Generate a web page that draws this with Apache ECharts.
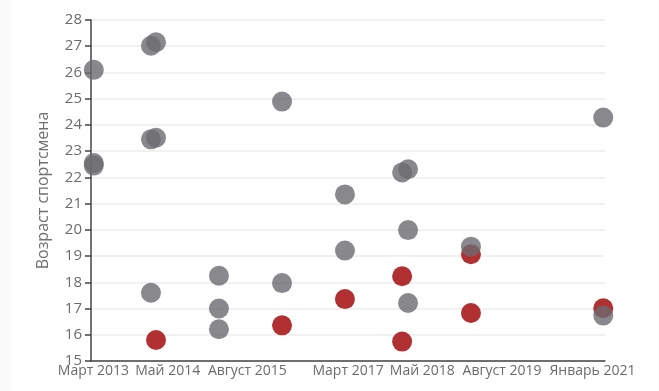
<!DOCTYPE html>
<html>
<head>
<meta charset="utf-8">
<script src="https://cdn.jsdelivr.net/npm/echarts@6/dist/echarts.min.js"></script>
<style>
  html, body { margin: 0; padding: 0; background: #fafafa; }
  #chart { position: absolute; left: 10px; top: 0; width: 648px; height: 391px; background: #ffffff; }
</style>
</head>
<body>
<div id="chart"></div>
<script>
// Tick labels on the date axis (label date -> text)
const tickDates = ['2013-03-01', '2014-05-01', '2015-08-01', '2017-03-01', '2018-05-01', '2019-08-01', '2021-01-01'];
const tickLabels = ['Март 2013', 'Май 2014', 'Август 2015', 'Март 2017', 'Май 2018', 'Август 2019', 'Январь 2021'];

// Gray points: [date, age]
const grayDates = [
  '2013-03-03', '2013-03-03', '2013-03-03',
  '2014-01-25', '2014-02-23', '2014-01-25', '2014-02-23', '2014-01-25',
  '2015-02-19', '2015-02-19', '2015-02-19',
  '2016-02-16', '2016-02-16',
  '2017-02-11', '2017-02-11',
  '2018-01-05', '2018-02-08', '2018-02-08', '2018-02-08',
  '2019-02-04',
  '2021-03-04', '2021-03-04'
];
const grayAges = [
  26.1, 22.45, 22.55,
  27.02, 27.15, 23.45, 23.51, 17.6,
  18.25, 17.0, 16.21,
  24.89, 17.97,
  21.35, 19.21,
  22.19, 22.31, 19.99, 17.21,
  19.36,
  24.28, 16.73
];

// Red points: [date, age]
const redDates = ['2014-02-23', '2016-02-16', '2017-02-11', '2018-01-05', '2018-01-05', '2019-02-04', '2019-02-04', '2021-03-04'];
const redAges  = [15.8, 16.36, 17.36, 18.23, 15.74, 19.07, 16.83, 17.01];

const yMin = 15, yMax = 28;
const axisStart = '2013-02-15', axisEnd = '2021-03-14';
const yName = 'Возраст спортсмена';

const FONT = '"Open Sans", "Noto Sans", sans-serif';
const DAY = 86400000;
const toDay = s => Math.round(new Date(s + 'T00:00:00Z').getTime() / DAY);
const labelMap = {};
tickDates.forEach((d, i) => { labelMap[toDay(d)] = tickLabels[i]; });

const chart = echarts.init(document.getElementById('chart'), null, { renderer: 'canvas' });
chart.setOption({
  backgroundColor: '#ffffff',
  animation: false,
  textStyle: { fontFamily: FONT },
  grid: { left: 81, right: 53, top: 20, bottom: 30, containLabel: false },
  xAxis: {
    type: 'value',
    min: toDay(axisStart),
    max: toDay(axisEnd),
    axisLine: { show: true, lineStyle: { color: '#444', width: 1.5 } },
    axisTick: { show: false },
    splitLine: { show: false },
    axisLabel: {
      customValues: tickDates.map(toDay),
      formatter: function (v) {
        const k = Math.round(v);
        return labelMap[k] !== undefined ? labelMap[k] : '';
      },
      color: '#6b6b6b',
      fontSize: 14,
      fontFamily: FONT,
      margin: 3,
      hideOverlap: false
    }
  },
  yAxis: {
    type: 'value',
    min: yMin,
    max: yMax,
    interval: 1,
    name: yName,
    nameLocation: 'middle',
    nameGap: 40,
    nameTextStyle: { color: '#707070', fontSize: 16, fontFamily: FONT },
    axisLine: { show: true, lineStyle: { color: '#444', width: 1.5 } },
    axisTick: { show: true, length: 6, lineStyle: { color: '#444', width: 1.5 } },
    axisLabel: { color: '#6b6b6b', fontSize: 15, margin: 9, fontFamily: FONT },
    splitLine: { show: true, lineStyle: { color: '#ececec', width: 1.5 } }
  },
  series: [
    {
      name: 'red',
      type: 'scatter',
      symbolSize: 20,
      itemStyle: { color: '#ae2a2c', opacity: 0.97 },
      data: redDates.map((d, i) => [toDay(d), redAges[i]])
    },
    {
      name: 'gray',
      type: 'scatter',
      symbolSize: 20,
      itemStyle: { color: 'rgb(108,107,113)', opacity: 0.8 },
      data: grayDates.map((d, i) => [toDay(d), grayAges[i]])
    }
  ]
});
</script>
</body>
</html>
